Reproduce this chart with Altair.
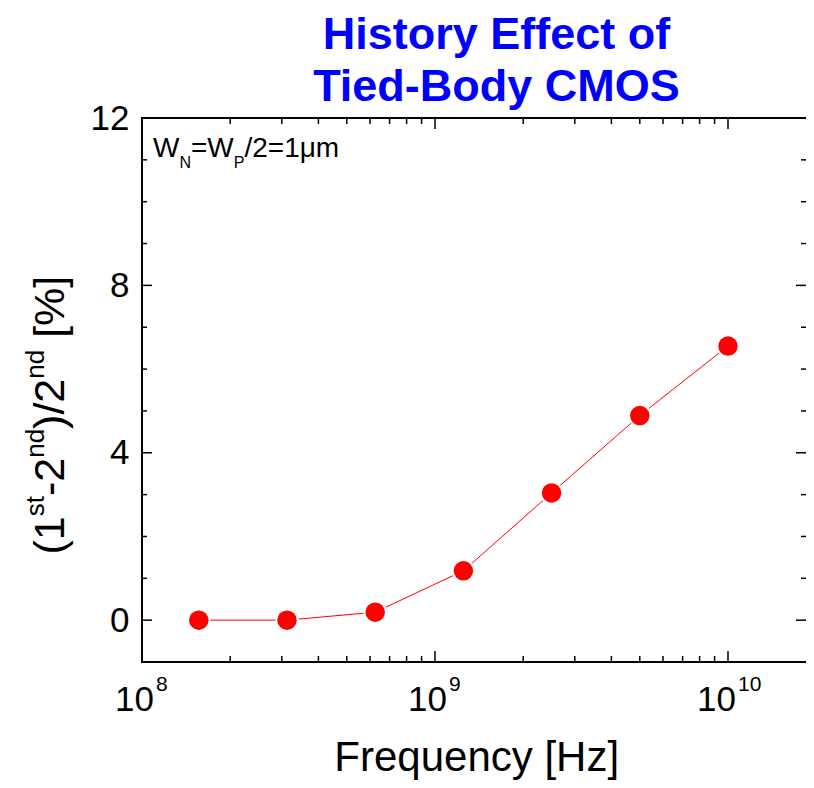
import altair as alt
import pandas as pd

# ---- data ----
freq_hz = [1.5625e8, 3.125e8, 6.25e8, 1.25e9, 2.5e9, 5e9, 1e10]
history_pct = [0.0, 0.0, 0.19, 1.18, 3.04, 4.89, 6.55]

x_major_ticks = [1e8, 1e9, 1e10]
x_minor_ticks = [2e8, 3e8, 4e8, 5e8, 6e8, 7e8, 8e8, 9e8,
                 2e9, 3e9, 4e9, 5e9, 6e9, 7e9, 8e9, 9e9]
x_label_base = ["10", "10", "10"]
x_label_exp = ["8", "9", "10"]
y_major_ticks = [0, 4, 8, 12]
y_minor_ticks = [1, 2, 3, 5, 6, 7, 9, 10, 11]

title_lines = ["History Effect of", "Tied-Body CMOS"]
x_title = "Frequency [Hz]"
y_title_pieces = [("(1", "big"), ("st", "sup"), ("-2", "big"), ("nd", "sup"),
                  (")/2", "big"), ("nd", "sup"), (" [%]", "big")]
note_pieces = [("W", "big"), ("N", "sub"), ("=W", "big"), ("P", "sub"), ("/2=1\u03bcm", "big")]

# ---- layout / style ----
W, H = 664, 544
FONT = "Liberation Sans"
RED = "#ff0000"
BLUE = "#0000ff"

# Arial / Liberation Sans advance widths (per em) for text layout of composed labels
ADV = {"(": .333, "1": .556, "s": .5, "t": .278, "-": .333, "2": .556, "n": .556,
       "d": .556, ")": .333, "/": .278, " ": .278, "[": .278, "%": .889, "]": .278,
       "W": .944, "N": .722, "=": .584, "P": .667, "\u03bc": .576, "m": .833}


def text_width(s, size):
    return sum(ADV.get(c, .556) for c in s) * size


xscale = alt.Scale(type="log", domain=[1e8, 1.846e10], nice=False)
yscale = alt.Scale(domain=[-1, 12], nice=False, zero=False)
yaxis = alt.Axis(values=y_major_ticks, labelFontSize=35, labelFont=FONT, labelColor="black",
                 domain=False, ticks=False, tickSize=0, grid=False, labelPadding=13,
                 title=None, labelFlush=False, labelOverlap=False)

one = pd.DataFrame({"a": [0]})
layers = []

# frame (left, bottom, top)
frame = alt.Chart(one).mark_rule(color="black", strokeWidth=2, strokeCap="square")
layers.append(frame.encode(x=alt.value(0), y=alt.value(0), y2=alt.value(H)))
layers.append(frame.encode(x=alt.value(0), x2=alt.value(W), y=alt.value(H)))
layers.append(frame.encode(x=alt.value(0), x2=alt.value(W), y=alt.value(0)))

# ticks (inward)
xmaj = pd.DataFrame({"v": x_major_ticks})
xmin = pd.DataFrame({"v": x_minor_ticks})
ymaj = pd.DataFrame({"v": y_major_ticks})
ymin = pd.DataFrame({"v": y_minor_ticks})
tick = dict(color="black", strokeWidth=1.5)
for df, ln in [(xmaj, 11), (xmin, 6)]:
    xe = alt.X("v:Q", scale=xscale, axis=None)
    layers.append(alt.Chart(df).mark_rule(**tick).encode(x=xe, y=alt.value(H), y2=alt.value(H - ln)))
    layers.append(alt.Chart(df).mark_rule(**tick).encode(x=xe, y=alt.value(0), y2=alt.value(ln)))
for df, ln in [(ymaj, 10), (ymin, 5)]:
    ye = alt.Y("v:Q", scale=yscale, axis=yaxis)
    layers.append(alt.Chart(df).mark_rule(**tick).encode(y=ye, x=alt.value(0), x2=alt.value(ln)))
    layers.append(alt.Chart(df).mark_rule(**tick).encode(y=ye, x=alt.value(W), x2=alt.value(W - ln)))

# data: line, white halo, red dots
data = pd.DataFrame({"f": freq_hz, "p": history_pct})
xenc = alt.X("f:Q", scale=xscale, axis=None)
yenc = alt.Y("p:Q", scale=yscale, axis=yaxis)
layers.append(alt.Chart(data).mark_line(color=RED, strokeWidth=1).encode(x=xenc, y=yenc))
layers.append(alt.Chart(data).mark_circle(color="white", opacity=1, size=540).encode(x=xenc, y=yenc))
layers.append(alt.Chart(data).mark_circle(color=RED, opacity=1, size=380).encode(x=xenc, y=yenc))

# x tick labels 10^n
xl = pd.DataFrame({"v": x_major_ticks, "base": x_label_base, "exp": x_label_exp})
xl["nexp"] = xl["exp"].str.len()
for n, bdx, edx in [(1, 12, 14), (2, 8, 10)]:
    sub = xl[xl["nexp"] == n]
    xe = alt.X("v:Q", scale=xscale, axis=None)
    layers.append(alt.Chart(sub).mark_text(font=FONT, fontSize=35, align="right", baseline="alphabetic",
                                           dx=bdx, color="black")
                  .encode(x=xe, y=alt.value(H + 48.7), text="base:N"))
    layers.append(alt.Chart(sub).mark_text(font=FONT, fontSize=21, align="left", baseline="alphabetic",
                                           dx=edx, color="black")
                  .encode(x=xe, y=alt.value(H + 28.7), text="exp:N"))

# x title
layers.append(alt.Chart(pd.DataFrame({"t": [x_title]})).mark_text(
    font=FONT, fontSize=42, align="center", baseline="alphabetic", color="black")
    .encode(x=alt.value(334.7), y=alt.value(H + 109), text="t:N"))

# y title, composed with superscripts, rotated
BIG, SUP = 43, 26
ypos = 436.5
for s, kind in y_title_pieces:
    size = BIG if kind == "big" else SUP
    xpx = -78.5 if kind == "big" else -98
    if s.startswith(" "):
        ypos -= text_width(" ", size)
        s = s.lstrip(" ")
    layers.append(alt.Chart(pd.DataFrame({"t": [s]})).mark_text(
        font=FONT, fontSize=size, align="left", baseline="alphabetic", angle=270, color="black")
        .encode(x=alt.value(xpx), y=alt.value(ypos), text="t:N"))
    ypos -= text_width(s, size)

# annotation W_N=W_P/2=1um
xpos = 11
for s, kind in note_pieces:
    size = 28 if kind == "big" else 16
    ypx = 39 if kind == "big" else 50
    layers.append(alt.Chart(pd.DataFrame({"t": [s]})).mark_text(
        font=FONT, fontSize=size, align="left", baseline="alphabetic", color="black")
        .encode(x=alt.value(xpos), y=alt.value(ypx), text="t:N"))
    xpos += text_width(s, size)

# main title (two lines)
for line, by in zip(title_lines, [-69, -17]):
    layers.append(alt.Chart(pd.DataFrame({"t": [line]})).mark_text(
        font=FONT, fontSize=45, fontWeight="bold", align="center", baseline="alphabetic", color=BLUE)
        .encode(x=alt.value(354.5), y=alt.value(by), text="t:N"))

chart = alt.layer(*layers).properties(
    width=W, height=H,
    padding={"left": 134, "top": 110, "right": 0, "bottom": 118},
    autosize=alt.AutoSizeParams(type="none"),
    background="white",
).configure_view(strokeWidth=0)

chart.save("out.html", embed_options={"renderer": "svg", "actions": False})
